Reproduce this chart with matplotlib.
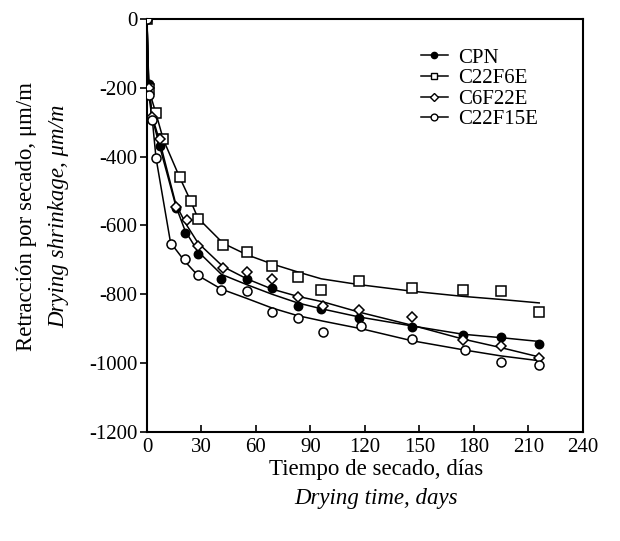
import matplotlib
matplotlib.use("Agg")
import matplotlib.pyplot as plt
from matplotlib.lines import Line2D

plt.rcParams['font.family'] = ['Liberation Serif', 'DejaVu Serif']
plt.rcParams['axes.unicode_minus'] = False

# ---- data ----
series_names = ["CPN", "C22F6E", "C6F22E", "C22F15E"]

cpn_days = [0, 1, 3, 7, 16, 21, 28, 41, 55, 69, 83, 96, 117, 146, 174, 195, 216]
cpn_vals = [0, -190, -290, -368, -548, -621, -682, -755, -756, -782, -834, -844, -868, -896, -918, -923, -945]
cpn_fit = [0, -190, -290, -370, -545, -615, -675, -742, -772, -800, -825, -842, -866, -892, -916, -926, -937]

c22f6e_days = [0, 1, 5, 9, 18, 24, 28, 42, 55, 69, 83, 96, 117, 146, 174, 195, 216]
c22f6e_vals = [0, -205, -272, -349, -460, -530, -580, -658, -678, -717, -749, -787, -760, -782, -787, -790, -850]
c22f6e_fit = [0, -205, -275, -350, -460, -528, -578, -652, -685, -712, -735, -755, -772, -791, -806, -815, -825]

c6f22e_days = [0, 1, 3, 7, 16, 22, 28, 42, 55, 69, 83, 97, 117, 146, 174, 195, 216]
c6f22e_vals = [0, -200, -285, -350, -546, -583, -661, -724, -735, -756, -808, -834, -846, -866, -934, -951, -984]
c6f22e_fit = [0, -200, -285, -355, -540, -600, -650, -720, -755, -785, -806, -822, -852, -890, -930, -955, -982]

c22f15e_days = [0, 1, 3, 5, 13, 21, 28, 41, 55, 69, 83, 97, 118, 146, 175, 195, 216]
c22f15e_vals = [0, -220, -295, -404, -655, -698, -744, -787, -790, -851, -868, -909, -893, -931, -963, -998, -1005]
c22f15e_fit = [0, -220, -295, -404, -650, -705, -745, -785, -812, -840, -862, -878, -900, -935, -962, -979, -993]

x_ticks = [0, 30, 60, 90, 120, 150, 180, 210, 240]
y_ticks = [0, -200, -400, -600, -800, -1000, -1200]

fig = plt.figure(figsize=(6.2, 5.41), dpi=100)
ax = fig.add_axes([0.237, 0.2015, 0.703, 0.7635])

styles = [
    dict(marker='o', mfc='black', mec='black'),
    dict(marker='s', mfc='white', mec='black'),
    dict(marker='D', mfc='white', mec='black'),
    dict(marker='o', mfc='white', mec='black'),
]
msizes = [6, 6.5, 5.5, 6.5]
all_days = [cpn_days, c22f6e_days, c6f22e_days, c22f15e_days]
all_vals = [cpn_vals, c22f6e_vals, c6f22e_vals, c22f15e_vals]
all_fit = [cpn_fit, c22f6e_fit, c6f22e_fit, c22f15e_fit]

for name, d, v, f, st, ms in zip(series_names, all_days, all_vals, all_fit, styles, msizes):
    ax.plot(d, f, color='black', lw=1.1, zorder=2)
    ax.plot(d, v, linestyle='none', marker=st['marker'], mfc=st['mfc'],
            mec=st['mec'], mew=1.1, ms=ms, zorder=3)

ax.set_xlim(0, 240)
ax.set_ylim(-1200, 0)
ax.set_xticks(x_ticks)
ax.set_yticks(y_ticks)
ax.set_xticklabels([str(t) for t in x_ticks])
ax.set_yticklabels([str(t) for t in y_ticks])
ax.tick_params(axis='x', direction='in', length=5, width=1.2, labelsize=15, pad=4)
ax.tick_params(axis='y', direction='out', length=5, width=1.2, labelsize=15, pad=2)
for s in ax.spines.values():
    s.set_linewidth(1.5)

handles = [Line2D([], [], color='black', lw=1.1, marker=st['marker'], mfc=st['mfc'],
                  mec=st['mec'], mew=1.0, ms=ms * 0.75)
           for st, ms in zip(styles, msizes)]
ax.legend(handles, series_names, loc='upper left', bbox_to_anchor=(0.595, 0.965),
          frameon=False, fontsize=15, handlelength=1.3, handletextpad=0.5,
          labelspacing=0.05, borderpad=0.2)

fig.text(0.606, 0.132, "Tiempo de secado, días", ha='center', va='center', fontsize=16.5)
fig.text(0.606, 0.078, "Drying time, days", ha='center', va='center', fontsize=16.5,
         style='italic')
fig.text(0.043, 0.60, "Retracción por secado, μm/m", ha='center', va='center',
         rotation=90, fontsize=16.5)
fig.text(0.094, 0.60, "Drying shrinkage, μm/m", ha='center', va='center',
         rotation=90, fontsize=16.5, style='italic')

fig.savefig("out.png", dpi=100)
